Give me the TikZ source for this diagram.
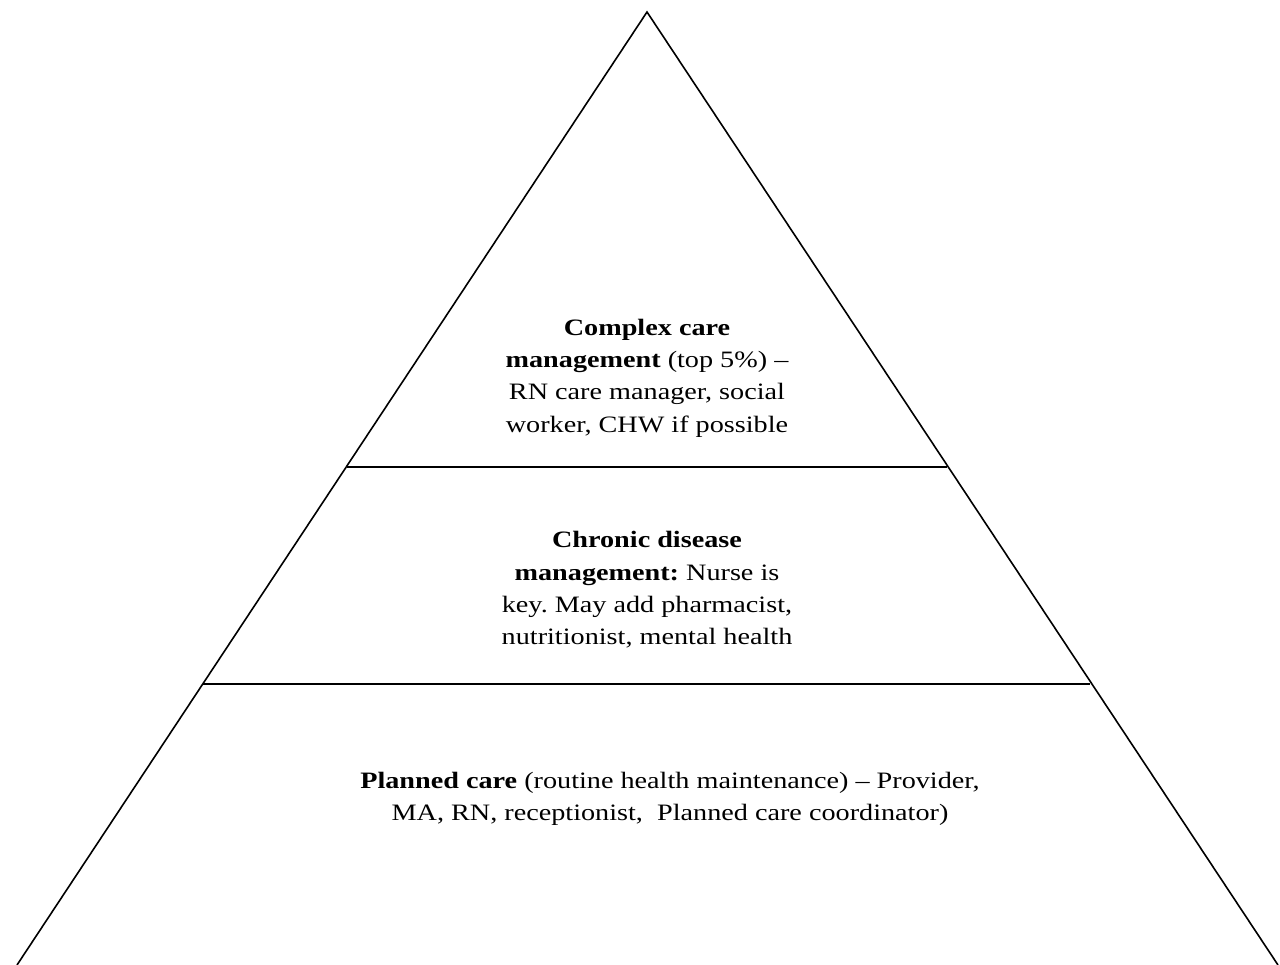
\documentclass[tikz,border=0pt]{standalone}
\usepackage{fontspec}
\setmainfont[FakeStretch=1.2]{Liberation Serif}
\begin{document}
\frenchspacing
\begin{tikzpicture}[x=1pt,y=-1pt,
  edge/.style={line width=1.6pt,black},
  label/.style={align=center,font=\fontsize{23.5}{32.3}\selectfont,inner sep=0pt}]
\useasboundingbox (0,0) rectangle (1280,965);
\coordinate (apex) at (647,12);
\coordinate (bl) at (17,965);
\coordinate (br) at (1278,965);
\coordinate (l1) at (347,467);
\coordinate (r1) at (947,467);
\coordinate (l2) at (203,684);
\coordinate (r2) at (1090,684);
\draw[edge,line join=miter] (bl) -- (apex) -- (br);
\draw[edge] (l1) -- (r1);
\draw[edge] (l2) -- (r2);
\node[label] (top) at (647,378) {\textbf{Complex care}\\\textbf{management} (top 5\%) --\\RN care manager, social\\worker, CHW if possible};
\node[label] (mid) at (647,590) {\textbf{Chronic disease}\\\textbf{management:} Nurse is\\key. May add pharmacist,\\nutritionist, mental health};
\node[label] (bot) at (670,799) {\textbf{Planned care} (routine health maintenance) -- Provider,\\MA, RN, receptionist,\ \ Planned care coordinator)};
\end{tikzpicture}
\end{document}
